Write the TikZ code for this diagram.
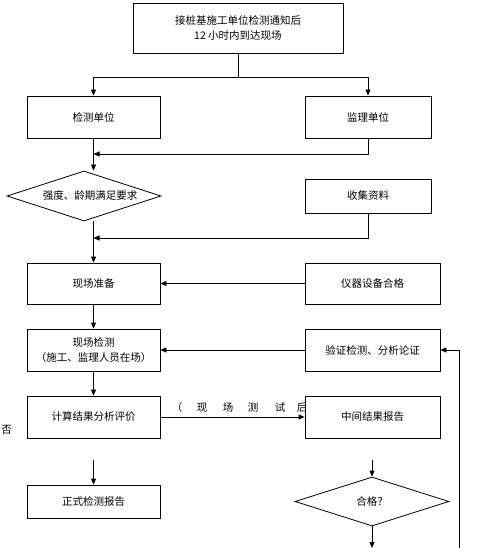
\documentclass[tikz,border=0pt]{standalone}
\usepackage{fontspec}
\setmainfont{Noto Sans CJK SC}
\usetikzlibrary{arrows.meta,shapes.geometric}
\begin{document}
\begin{tikzpicture}[x=1pt,y=-1pt,
  line width=0.8pt,
  font=\fontsize{10.5pt}{15pt}\selectfont,
  box/.style={draw, fill=white, inner sep=0pt, align=center},
  dia/.style={draw, fill=white, shape=diamond, inner sep=0pt, aspect=3},
  arr/.style={-{Triangle[length=6pt,width=5pt]}}]
\useasboundingbox (0,0) rectangle (490,548);
% boxes
\node[box, minimum width=210pt, minimum height=50pt] (top) at (238,28) {接桩基施工单位检测通知后\\12 小时内到达现场};
\node[box, minimum width=133pt, minimum height=42pt] (jc) at (93.5,117) {检测单位};
\node[box, minimum width=126pt, minimum height=42pt] (jl) at (368,117) {监理单位};
\node[dia, minimum width=154pt, minimum height=50pt] (qd) at (84,196) {\hspace*{12pt}强度、龄期满足要求};
\node[box, minimum width=126pt, minimum height=34pt] (sj) at (368,196) {收集资料};
\node[box, minimum width=133pt, minimum height=41pt] (xz) at (93.5,283.5) {现场准备};
\node[box, minimum width=135pt, minimum height=41pt] (yq) at (372.5,283.5) {仪器设备合格};
\node[box, minimum width=133pt, minimum height=42pt] (xj) at (93.5,350) {现场检测\\（施工、监理人员在场）};
\node[box, minimum width=135pt, minimum height=42pt] (yz) at (372.5,350) {验证检测、分析论证};
\node[box, minimum width=133pt, minimum height=42pt] (js) at (93.5,417) {计算结果分析评价};
\node[box, minimum width=133pt, minimum height=33pt] (zs) at (93.5,501.5) {正式检测报告};
% spaced label under intermediate box
\foreach \ch/\xx [count=\i] in {（/177,现/202,场/228,测/253,试/280,后/302}
  \node[inner sep=0pt] (lab\i) at (\xx,408) {\ch};
\node[box, minimum width=135pt, minimum height=42pt] (zj) at (372.5,417) {中间结果报告};
\node[dia, minimum width=154pt, minimum height=49pt] (hg) at (372,501.5) {合格？};
\node[inner sep=0pt, anchor=west] (fou) at (1,430) {否};
% coordinates
\coordinate (j0) at (238,77);
\coordinate (j1) at (93.5,154);
\coordinate (j2) at (93.5,238);
\coordinate (s1) at (93.5,460);
\coordinate (s2) at (372,460);
\coordinate (e1) at (372,548);
\coordinate (e2) at (459,548);
% connectors
\draw (top.south) -- (j0);
\draw[arr] (j0) -| (jc.north);
\draw[arr] (j0) -| (jl.north);
\draw[arr] (jc.south) -- (jc.south |- qd.north);
\draw[arr] (jl.south) |- (j1);
\draw[arr] (sj.south) |- (j2);
\draw[arr] (qd.south -| jc.south) -- (xz.north);
\draw[arr] (yq.west) -- (xz.east);
\draw[arr] (xz.south) -- (xj.north);
\draw[arr] (yz.west) -- (xj.east);
\draw[arr] (xj.south) -- (js.north);
\draw[arr] (js.east) -- (zj.west);
\draw[arr] (s1) -- (zs.north);
\draw[arr] (s2) -- (hg.north);
\draw[arr] (hg.south) -- (e1);
\draw[arr] (e2) |- (yz.east);
\end{tikzpicture}
\end{document}
